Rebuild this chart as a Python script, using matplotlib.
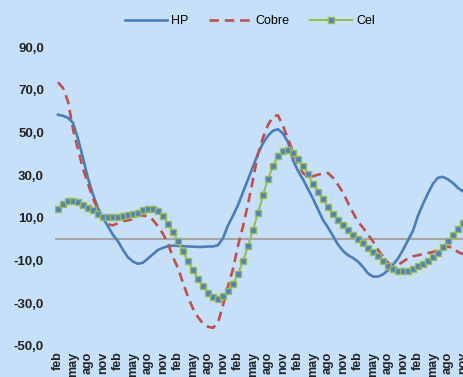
import matplotlib
matplotlib.use("Agg")
import matplotlib.pyplot as plt
import numpy as np

# monthly series, first point = feb
hp = [58.3, 57.8, 56.8, 54.5, 47, 38, 28.5, 21, 14.5, 10, 6, 2, -1, -5, -8.5, -10.5,
      -11.5, -11, -9, -7, -5, -4, -3.3, -3, -3.1, -3.3, -3.4, -3.5, -3.6, -3.6, -3.4,
      -3.4, -2.8, 0.5, 6.5, 11, 16, 22, 28, 34, 40, 45, 48.5, 50.8, 51.5, 49.5, 45.5, 37,
      32, 28, 23.5, 19, 14, 9, 5.5, 1.5, -2.5, -5.5, -7.5, -8.8, -10.5, -13, -16, -17.5,
      -17.5, -16.5, -14.5, -12, -9, -5, -0.5, 4, 11, 16.5, 21.5, 26, 28.8, 29.2, 28, 26.3,
      24, 22.4]
cobre = [73.5, 70.8, 64.5, 51.5, 42, 33, 26, 19, 14, 9.5, 7, 6.5, 7.5, 8.5, 8.8, 9.5,
         11, 11, 10.8, 9, 6, 2.5, -2, -8.5, -13.5, -20.5, -27, -32.5, -36.5, -39.5, -41,
         -41.5, -39, -31, -22, -14, -3, 6, 16.5, 28, 40, 47.5, 53.5, 57.5, 58, 53, 47, 41,
         35, 31, 29, 29.5, 30.2, 30.8, 31, 28.8, 25.5, 21.8, 17, 12.4, 8.2, 5.4, 2.1, -1,
         -5, -8, -11, -12.5, -12, -10.5, -9, -8, -7.5, -7, -6.5, -6, -5, -4, -3.5, -4,
         -6, -7]
cel = [14.3, 16.6, 18, 18, 17.6, 16, 14.7, 13.5, 12, 10.6, 10.6, 10.6, 10.6, 11, 11.5, 12,
       12.4, 13.5, 14, 14, 13, 11, 7.3, 3.2, -1, -5.7, -10.4, -14.6, -18.5, -22, -25,
       -27.2, -27.9, -26.8, -24.4, -21, -16.2, -10.4, -3.2, 4.4, 12.3, 20.6, 28.3, 34.2,
       38.8, 41.1, 41.6, 40.5, 37.7, 34.3, 30.4, 25.9, 22.2, 18.7, 15.1, 12, 8.8, 6.8,
       4.1, 2.1, 0.1, -1.8, -4.1, -6, -8, -10.4, -12.4, -13.8, -14.8, -15.1, -14.8, -14,
       -12.7, -11.5, -10.1, -8.3, -6.5, -3.8, -1, 2.1, 4.9, 7.7]
month_names = ["feb", "may", "ago", "nov"]
y_ticks = [-50, -30, -10, 10, 30, 50, 70, 90]

bg = "#c6e0f9"
fig = plt.figure(figsize=(4.63, 3.77), dpi=100, facecolor=bg)
ax = fig.add_axes([55 / 463, 31 / 377, 408 / 463, 299 / 377], facecolor=bg)

x = np.arange(len(hp))
ax.axhline(0, color="#a6a6a6", lw=1.5, zorder=1)
ax.plot(x, hp, color="#4a7ebb", lw=1.9, label="HP", zorder=2)
ax.plot(x, cobre, color="#c0504d", lw=1.9, dashes=(3.6, 2.2), label="Cobre", zorder=3)
ax.plot(x, cel, color="#9bbb59", lw=1.5, marker="s", markersize=4.2,
        markerfacecolor="#4f81bd", markeredgecolor="#9bbb59", markeredgewidth=1,
        label="Cel", zorder=4)

ax.set_xlim(-0.6, 81)
ax.set_ylim(-50, 90)

ticks = np.arange(0, len(hp), 3)
ax.set_xticks(ticks)
ax.set_xticklabels([month_names[i % 4] for i in range(len(ticks))], rotation=90,
                   fontsize=9, fontweight="bold", family="Liberation Sans", va="top")
ax.set_yticks(y_ticks)
ax.set_yticklabels([f"{v:.1f}".replace(".", ",") for v in y_ticks],
                   fontsize=9.5, fontweight="bold", family="Liberation Sans")
ax.tick_params(axis="both", length=0, colors="#222222")
ax.tick_params(axis="y", pad=8)
ax.tick_params(axis="x", pad=4)
for s in ax.spines.values():
    s.set_visible(False)

leg = fig.legend(loc="center", bbox_to_anchor=(250 / 463, 1 - 21 / 377), ncol=3,
                 frameon=False, prop={"family": "Liberation Sans", "size": 9},
                 handlelength=3.4, columnspacing=1.6, handletextpad=0.35)

fig.savefig("out.png", dpi=100, facecolor=bg)
